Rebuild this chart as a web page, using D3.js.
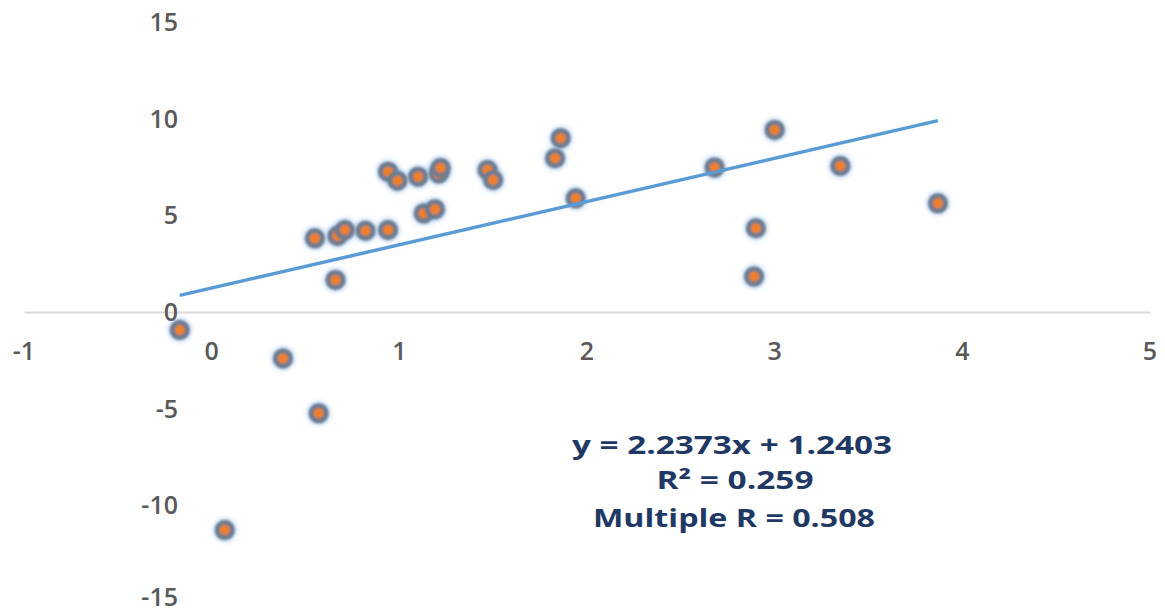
<!DOCTYPE html>
<html>
<head>
<meta charset="utf-8">
<script src="https://cdn.jsdelivr.net/npm/d3@7"></script>
<style>
  body { margin: 0; background: #fff; }
  text { font-family: "Open Sans", sans-serif; }
</style>
</head>
<body>
<div id="chart"></div>
<script>
// data
const xValues = [-0.17, 0.38, 0.57, 0.07, 0.55, 0.67, 0.71, 0.82, 0.94, 0.66, 1.13, 1.19,
                 0.94, 0.99, 1.10, 1.21, 1.22, 1.47, 1.50, 1.86, 1.83, 1.94, 3.00, 2.68,
                 3.35, 3.87, 2.90, 2.89];
const yValues = [-0.93, -2.4, -5.24, -11.28, 3.81, 3.93, 4.24, 4.2, 4.24, 1.66, 5.1, 5.31,
                 7.26, 6.79, 7.0, 7.17, 7.45, 7.35, 6.83, 8.99, 7.95, 5.88, 9.42, 7.48,
                 7.55, 5.62, 4.33, 1.83];
const xTicks = [-1, 0, 1, 2, 3, 4, 5];
const yTicks = [15, 10, 5, 0, -5, -10, -15];
const slope = 2.2373, intercept = 1.2403;
const statLines = ["y = 2.2373x + 1.2403", "R\u00B2 = 0.259", "Multiple R = 0.508"];

const width = 1165, height = 615;

const svg = d3.select("#chart").append("svg")
    .attr("width", width)
    .attr("height", height);

const defs = svg.append("defs");
const glow = defs.append("filter").attr("id", "soft")
    .attr("x", "-50%").attr("y", "-50%").attr("width", "200%").attr("height", "200%");
glow.append("feGaussianBlur").attr("stdDeviation", 0.9);

const halo = defs.append("filter").attr("id", "halo")
    .attr("x", "-80%").attr("y", "-80%").attr("width", "260%").attr("height", "260%");
halo.append("feGaussianBlur").attr("stdDeviation", 2.5);

var x = d3.scaleLinear().domain([-1, 5]).range([24, 1150]);
var y = d3.scaleLinear().domain([-15, 15]).range([602, 22]);

// horizontal axis line at y = 0
svg.append("g")
    .attr("transform", "translate(0," + y(0) + ")")
    .call(d3.axisBottom(x).tickValues([]).tickSizeOuter(0))
    .call(g => g.select(".domain").attr("stroke", "#d9d9d9").attr("stroke-width", 2));

// x tick labels
svg.append("g").selectAll("text")
    .data(xTicks)
    .enter().append("text")
    .attr("x", d => x(d))
    .attr("y", 360)
    .attr("text-anchor", "middle")
    .attr("font-size", 25)
    .attr("font-weight", 600)
    .attr("fill", "#595959")
    .text(d => d);

// y tick labels
svg.append("g").selectAll("text")
    .data(yTicks)
    .enter().append("text")
    .attr("x", 178)
    .attr("y", d => Math.min(y(d) + 9, 606))
    .attr("text-anchor", "end")
    .attr("font-size", 25)
    .attr("font-weight", 600)
    .attr("fill", "#595959")
    .text(d => d);

const points = xValues.map((v, i) => ({ x: v, y: yValues[i] }));

// markers
const marks = svg.append("g");
marks.selectAll(".halo")
    .data(points)
    .enter().append("circle")
    .attr("class", "halo")
    .attr("cx", d => x(d.x))
    .attr("cy", d => y(d.y))
    .attr("r", 11)
    .attr("fill", "#7fb0e0")
    .attr("opacity", 0.7)
    .attr("filter", "url(#halo)");
marks.selectAll(".dot")
    .data(points)
    .enter().append("circle")
    .attr("class", "dot")
    .attr("cx", d => x(d.x))
    .attr("cy", d => y(d.y))
    .attr("r", 7.5)
    .attr("fill", "#f07f2c")
    .attr("stroke", "#6f7c8e")
    .attr("stroke-width", 5)
    .attr("filter", "url(#soft)");

// trendline
const xMin = d3.min(xValues), xMax = d3.max(xValues);
const line = d3.line().x(d => x(d)).y(d => y(slope * d + intercept));
svg.append("path")
    .datum([xMin, xMax])
    .attr("d", line)
    .attr("fill", "none")
    .attr("stroke", "#5b9bd5")
    .attr("stroke-width", 3.5);

// regression stats
const statY = [454, 489, 527];
const statW = [320, 157, 282];
const statX = [732, 735, 734];
svg.append("g").selectAll("text")
    .data(statLines)
    .enter().append("text")
    .attr("x", (d, i) => statX[i])
    .attr("y", (d, i) => statY[i])
    .attr("text-anchor", "middle")
    .attr("font-size", 25)
    .attr("font-weight", 700)
    .attr("fill", "#1f3864")
    .attr("textLength", (d, i) => statW[i])
    .attr("lengthAdjust", "spacingAndGlyphs")
    .text(d => d);
</script>
</body>
</html>
